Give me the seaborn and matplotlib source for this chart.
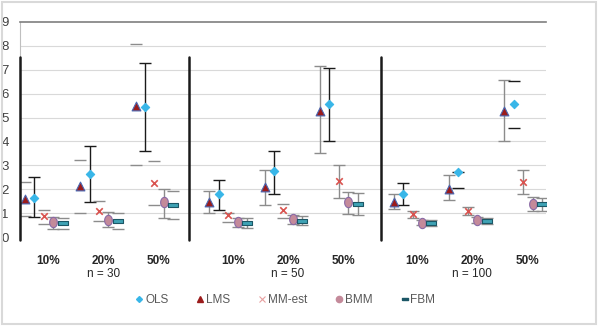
import numpy as np
import pandas as pd
import seaborn as sns
import matplotlib.pyplot as plt
from matplotlib.lines import Line2D
from matplotlib.transforms import blended_transform_factory

# category labels
pct_labels = ['10%', '20%', '50%'] * 3
n_labels = ['n = 30', 'n = 50', 'n = 100']

# series values, order: n30 (10,20,50), n50 (...), n100 (...)
ols_mean = [1.65, 2.65, 5.46, 1.79, 2.75, 5.56, 1.82, 2.74, 5.57]
ols_low = [0.85, 1.45, 3.60, 1.12, 1.79, 4.03, 1.35, 2.07, 4.58]
ols_high = [2.50, 3.80, 7.29, 2.40, 3.61, 7.08, 2.25, 2.74, 6.53]

lms_mean = [1.58, 2.14, 5.50, 1.47, 2.10, 5.29, 1.47, 2.03, 5.26]
lms_low = [0.90, 1.01, 3.00, 1.01, 1.33, 3.53, 1.17, 1.53, 4.01]
lms_high = [2.30, 3.24, 8.07, 1.92, 2.82, 7.15, 1.79, 2.58, 6.57]

mm_mean = [0.87, 1.08, 2.26, 0.92, 1.12, 2.33, 0.95, 1.10, 2.30]
mm_low = [0.55, 0.65, 1.32, 0.62, 0.78, 1.62, 0.78, 0.92, 1.79]
mm_high = [1.15, 1.49, 3.17, 1.00, 1.40, 3.03, 1.10, 1.26, 2.79]

bmm_mean = [0.62, 0.71, 1.45, 0.61, 0.74, 1.45, 0.60, 0.71, 1.40]
bmm_low = [0.35, 0.40, 0.79, 0.42, 0.53, 0.96, 0.50, 0.60, 1.07]
bmm_high = [0.83, 1.03, 2.03, 0.78, 0.93, 1.90, 0.70, 0.82, 1.68]

fbm_mean = [0.57, 0.68, 1.33, 0.57, 0.68, 1.40, 0.57, 0.68, 1.40]
fbm_low = [0.35, 0.35, 0.76, 0.38, 0.49, 0.92, 0.47, 0.55, 1.07]
fbm_high = [0.78, 0.99, 1.92, 0.78, 0.90, 1.83, 0.70, 0.80, 1.65]

# which error bars show their vertical line (some only show the caps)
ols_line = [True, True, True, True, True, True, True, False, False]
lms_line = [False, False, False, True, True, True, True, True, True]
mm_line = [False, False, False, False, False, True, True, True, True]
bmm_line = [True] * 9
fbm_line = [False, False, False, True, True, True, True, True, True]

sns.set_theme(style='white')
plt.rcParams['font.family'] = ['Liberation Sans Narrow', 'Liberation Sans', 'DejaVu Sans']

# x positions: 3 groups of 3 categories, small gap between groups
pos = np.array([g * (3 + 1 / 3) + i for g in range(3) for i in range(3)])

fig = plt.figure(figsize=(6, 3.26), dpi=100)
ax = fig.add_axes([20 / 600, 1 - 237 / 326, 526 / 600, 215 / 326])

wide_dash = [(-1, -0.4), (1, -0.4), (1, 0.4), (-1, 0.4), (-1, -0.4)]
oval = [(np.cos(t) * 0.75, np.sin(t)) for t in np.linspace(0, 2 * np.pi, 30)]

series = [
    ('LMS', -0.34, lms_mean, lms_low, lms_high, lms_line, '^', '#9B1B1B', '#4A66B0', '#8c8c8c', 40),
    ('OLS', -0.17, ols_mean, ols_low, ols_high, ols_line, 'D', '#38B6E8', '#38B6E8', '#1a1a1a', 18),
    ('MM-est', 0.0, mm_mean, mm_low, mm_high, mm_line, 'x', '#D9534F', '#D9534F', '#8c8c8c', 22),
    ('BMM', 0.17, bmm_mean, bmm_low, bmm_high, bmm_line, oval, '#C48A9A', '#8A6AA6', '#8c8c8c', 55),
    ('FBM', 0.34, fbm_mean, fbm_low, fbm_high, fbm_line, wide_dash, '#3FA3B5', '#1C5766', '#8c8c8c', 42),
]

for name, off, mean, low, high, line, mk, fc, ec, barc, size in series:
    x = pos + off
    mean = np.array(mean)
    err = np.array([mean - np.array(low), np.array(high) - mean])
    line = np.array(line)
    for mask, lw in [(line, 1.0), (~line, 0.0)]:
        if mask.any():
            ax.errorbar(x[mask], mean[mask], yerr=err[:, mask], fmt='none',
                        ecolor=barc, elinewidth=lw, capsize=4.5, capthick=1.0, zorder=2)
    df = pd.DataFrame({'x': x, 'y': mean})
    lw_m = 1.2 if name == 'MM-est' else 0.8
    sns.scatterplot(data=df, x='x', y='y', marker=mk, color=fc, edgecolor=ec,
                    s=size, linewidth=lw_m, ax=ax, zorder=3)

ax.set_xlim(-0.43, 9.08)
ax.set_ylim(0, 9)
ax.set_yticks(range(10))
ax.set_yticklabels([str(v) for v in range(10)], fontsize=9.5, color='#404040')
ax.tick_params(axis='y', length=0, pad=8)
ax.set_xticks(pos + 0.08)
ax.set_xticklabels(pct_labels, fontsize=8.5, fontweight='bold', color='#262626')
ax.tick_params(axis='x', length=0, pad=13)
ax.set_xlabel('')
ax.set_ylabel('')

for v in range(1, 9):
    ax.axhline(v, color='#d9d9d9', lw=0.8, zorder=0)

for s in ['right', 'bottom']:
    ax.spines[s].set_visible(False)
ax.spines['top'].set_color('#7f7f7f')
ax.spines['top'].set_linewidth(1.2)
ax.spines['left'].set_color('#bfbfbf')
ax.spines['left'].set_linewidth(0.8)

# group separators
for xs in [-0.43, 2.63, 6.09]:
    ax.plot([xs, xs], [-0.12, 7.55], color='#1a1a1a', lw=1.8, clip_on=False, zorder=4)

trans = blended_transform_factory(ax.transData, ax.transAxes)
for k, lab in enumerate(n_labels):
    ax.text(pos[3 * k + 1] + 0.08, -0.17, lab, transform=trans, ha='center', va='center',
            fontsize=8.5, color='#262626')

handles = [
    Line2D([], [], ls='none', marker='D', color='#38B6E8', markersize=3),
    Line2D([], [], ls='none', marker='^', color='#9B1B1B', markersize=4),
    Line2D([], [], ls='none', marker='x', color='#E8A0A0', markersize=4, mew=0.8),
    Line2D([], [], ls='none', marker='o', color='#C48A9A', markersize=4.5),
    Line2D([], [], ls='none', marker=wide_dash, color='#1C5766', markersize=5),
]
fig.legend(handles, ['OLS', 'LMS', 'MM-est', 'BMM', 'FBM'], loc='center', ncol=5,
           bbox_to_anchor=(0.475, 1 - 300 / 326), frameon=False, fontsize=8.5,
           labelcolor='#595959', handletextpad=0.1, columnspacing=2.3, handlelength=0.8)

# outer chart border
fig.add_artist(plt.Rectangle((0.004, 0.006), 0.99, 0.988, transform=fig.transFigure,
                             fill=False, edgecolor='#d9d9d9', lw=1.5))

fig.savefig('out.png', dpi=100)
